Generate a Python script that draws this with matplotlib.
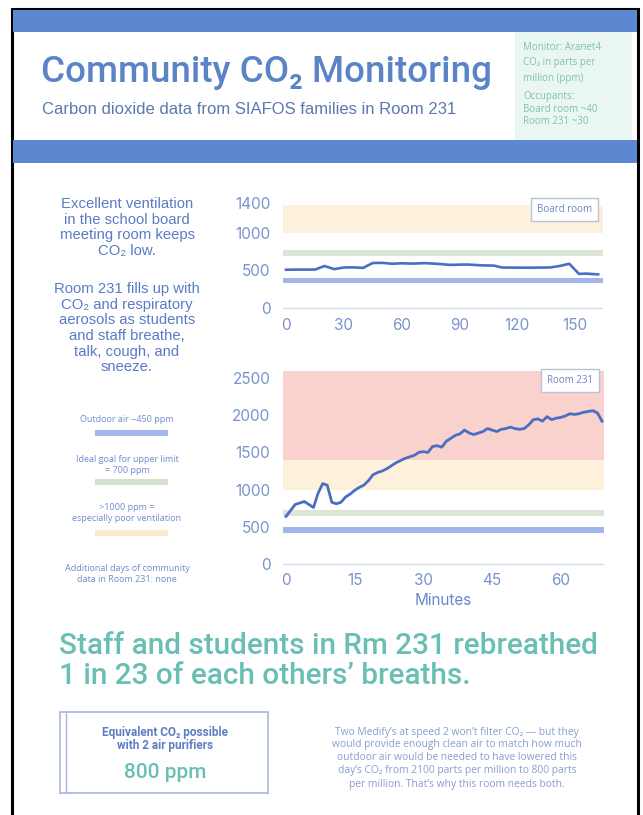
import matplotlib
matplotlib.use('Agg')
import matplotlib.pyplot as plt
from matplotlib.patches import Rectangle

# ---- data ----
board_min = [0, 5, 10, 15, 20, 25, 30, 35, 40, 45, 50, 55, 60, 66, 72, 78, 85,
             94, 102, 108, 112, 120, 128, 137, 142, 147, 152, 156, 162]
board_ppm = [510, 512, 512, 512, 560, 518, 540, 542, 535, 600, 602, 590, 596,
             592, 598, 590, 575, 580, 568, 565, 540, 538, 538, 540, 560, 590,
             455, 458, 448]

room_min = list(range(70))
room_ppm = [640, 720, 800, 820, 840, 800, 760, 950, 1080, 1060,
            830, 810, 830, 900, 940, 990, 1030, 1060, 1120, 1200,
            1230, 1250, 1280, 1320, 1360, 1390, 1420, 1440, 1460, 1500,
            1510, 1500, 1580, 1590, 1570, 1650, 1690, 1730, 1750, 1800,
            1760, 1740, 1760, 1780, 1820, 1800, 1780, 1810, 1820, 1840,
            1820, 1810, 1820, 1870, 1940, 1950, 1920, 1980, 1940, 1960,
            1970, 1990, 2020, 2010, 2020, 2040, 2050, 2060, 2030, 1920]

board_xticks = [0, 30, 60, 90, 120, 150]
board_yticks = [0, 500, 1000, 1400]
room_xticks = [0, 15, 30, 45, 60]
room_yticks = [0, 500, 1000, 1500, 2000, 2500]

# outdoor, ideal limit, poor ventilation, very poor
board_bands = [(340, 400), (700, 770), (1000, 1380)]
room_bands = [(420, 500), (650, 730), (1000, 1400), (1400, 2600)]
band_colors = ['#a3b5ea', '#dde6d6', '#fdf1dc', '#f9d2cd']

W, H = 643, 815
fig = plt.figure(figsize=(W / 100, H / 100), dpi=100)

# full-page axes in pixel coordinates for the infographic layout
bg = fig.add_axes([0, 0, 1, 1])
bg.set_xlim(0, W)
bg.set_ylim(H, 0)
bg.axis('off')

def box(x0, y0, x1, y1, **kw):
    bg.add_patch(Rectangle((x0, y0), x1 - x0, y1 - y0, **kw))

SANS = ['Liberation Sans', 'DejaVu Sans']
ROBOTO = ['Roboto', 'DejaVu Sans']
OPEN = ['Open Sans', 'DejaVu Sans']
blue = '#5d87cf'

# page frame and header bands
box(12, 9, 638, 830, fc='white', ec='black', lw=2.2)
box(13, 10, 637, 32, fc=blue, ec='none')
box(13, 140, 637, 163, fc=blue, ec='none')
box(515, 32, 632, 140, fc='#eaf6f2', ec='none')

bg.text(41, 73, 'Community CO₂ Monitoring', fontsize=26.5, color='#5a83c8',
        family=ROBOTO, fontweight='medium', va='center', ha='left')
bg.text(42, 110, 'Carbon dioxide data from SIAFOS families in Room 231',
        fontsize=12, color='#5b78b0', family=SANS, va='center', ha='left')

side_col = '#82c0b1'
for y, t in zip([47, 63, 78, 97, 110, 122],
                ['Monitor: Aranet4', 'CO₂ in parts per', 'million (ppm)',
                 'Occupants:', 'Board room ~40', 'Room 231 ~30']):
    bg.text(523, y, t, fontsize=7, color=side_col, family=OPEN,
            va='center', ha='left')

# left column text
left_col = '#5a7bc6'
para1 = 'Excellent ventilation\nin the school board\nmeeting room keeps\nCO₂ low.'
para2 = ('Room 231 fills up with\nCO₂ and respiratory\naerosols as students\n'
         'and staff breathe,\ntalk, cough, and\nsneeze.')
bg.text(127, 197, para1, fontsize=10.7, color=left_col, family=SANS,
        ha='center', va='top', linespacing=1.15)
bg.text(127, 282, para2, fontsize=10.7, color=left_col, family=SANS,
        ha='center', va='top', linespacing=1.15)

small = dict(fontsize=6.5, color='#6f8bd0', family=OPEN,
             ha='center', va='center', linespacing=1.3)
bg.text(127, 419, 'Outdoor air ~450 ppm', **small)
box(95, 430, 168, 436, fc=band_colors[0], ec='none')
bg.text(127, 465, 'Ideal goal for upper limit\n= 700 ppm', **small)
box(95, 479, 168, 485, fc='#d6e2d0', ec='none')
bg.text(127, 513, '>1000 ppm =\nespecially poor ventilation', **small)
box(95, 530, 168, 536, fc='#fbeccc', ec='none')
bg.text(127, 574, 'Additional days of community\ndata in Room 231: none', **small)

# bottom section
teal = '#69bfb3'
bg.text(59, 661, 'Staff and students in Rm 231 rebreathed\n1 in 23 of each others’ breaths.',
        fontsize=21.4, color=teal, family=ROBOTO, fontweight='medium',
        ha='left', va='center', linespacing=1.1)

box(60, 712, 268, 793, fc='white', ec='#a8b6e0', lw=1.2)
bg.plot([66, 66], [712, 793], color='#a8b6e0', lw=1.0)
bg.text(165, 739, 'Equivalent CO₂ possible\nwith 2 air purifiers', fontsize=8.5,
        color='#5d7dc4', family=ROBOTO, fontweight='bold',
        ha='center', va='center', linespacing=1.05)
bg.text(165, 773, '800 ppm', fontsize=15, color=teal, family=ROBOTO,
        fontweight='medium', ha='center', va='center')

para3 = ('Two Medify’s at speed 2 won’t filter CO₂ — but they\n'
         'would provide enough clean air to match how much\n'
         'outdoor air would be needed to have lowered this\n'
         'day’s CO₂ from 2100 parts per million to 800 parts\n'
         'per million. That’s why this room needs both.')
bg.text(457, 758, para3, fontsize=7.4, color='#8a9dd2',
        family=OPEN, ha='center', va='center', linespacing=1.25)


def px_axes(x0, x1, y_top, y_bot):
    return fig.add_axes([x0 / W, 1 - y_bot / H, (x1 - x0) / W, (y_bot - y_top) / H])


def style(ax, xticks, yticks, bands, label):
    for (lo, hi), c in zip(bands, band_colors):
        ax.axhspan(lo, hi, color=c, lw=0, zorder=0)
    ax.axhline(0, color='#d5ddec', lw=1, zorder=1)
    ax.set_xticks(xticks)
    ax.set_yticks(yticks)
    for s in ax.spines.values():
        s.set_visible(False)
    ax.patch.set_alpha(0)
    ax.tick_params(length=0, labelsize=11, labelcolor='#7a93cc')
    ax.tick_params(axis='y', pad=9)
    for t in ax.get_xticklabels() + ax.get_yticklabels():
        t.set_family(['Inter', 'DejaVu Sans'])
    ax.text(0.965, 0.96, label, transform=ax.transAxes, ha='right', va='top',
            fontsize=7, color='#6a86c6', family=OPEN,
            bbox=dict(boxstyle='square,pad=0.6', fc='white', ec='#b9c2da', lw=1))


line_col = '#4a6ec2'

ax1 = px_axes(283, 603, 199.25, 314)
ax1.plot(board_min, board_ppm, color=line_col, lw=1.9, zorder=3)
ax1.set_xlim(-1.56, 164.5)
ax1.set_ylim(-80, 1450)
style(ax1, board_xticks, board_yticks, board_bands, 'Board room')
ax1.tick_params(axis='x', pad=3)

ax2 = px_axes(283, 604, 366.8, 570)
ax2.plot(room_min, room_ppm, color=line_col, lw=2.0, zorder=3)
ax2.set_xlim(-0.655, 69.43)
ax2.set_ylim(-80, 2650)
style(ax2, room_xticks, room_yticks, room_bands, 'Room 231')
ax2.tick_params(axis='x', pad=2)
ax2.set_xlabel('Minutes', fontsize=11, color='#6b86c8', labelpad=4,
               family=['Inter', 'DejaVu Sans'])

fig.savefig('out.png', dpi=100)
